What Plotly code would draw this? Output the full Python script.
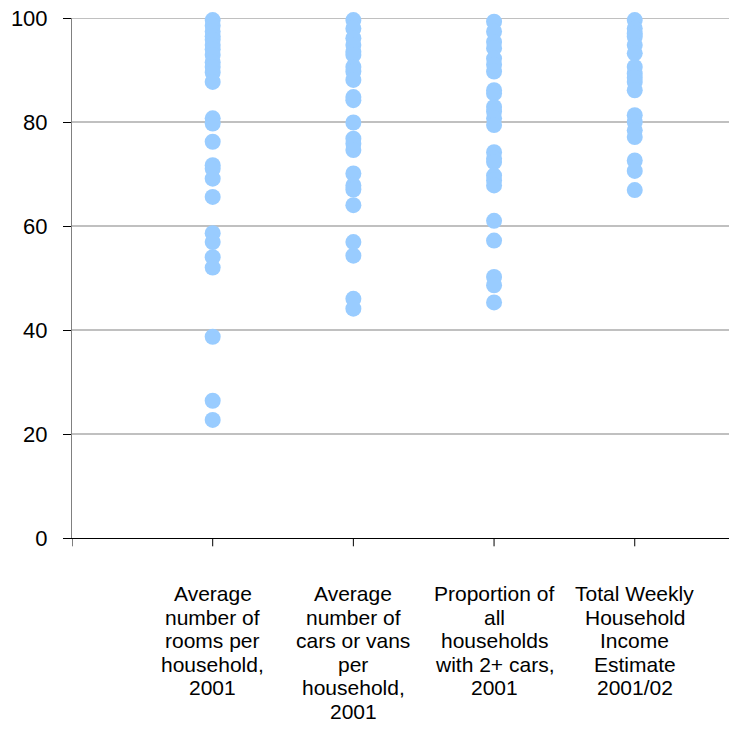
import plotly.graph_objects as go

# category labels (x positions 1..4, position 0 is the empty first slot)
categories = [
    "Average<br>number of<br>rooms per<br>household,<br>2001",
    "Average<br>number of<br>cars or vans<br>per<br>household,<br>2001",
    "Proportion of<br>all<br>households<br>with 2+ cars,<br>2001",
    "Total Weekly<br>Household<br>Income<br>Estimate<br>2001/02",
]

rooms = [99.6, 98.5, 97.4, 96.5, 95.8, 94.8, 94.0, 92.9, 91.5, 90.6, 89.5, 87.7,
         80.7, 79.7, 76.2, 71.7, 71.0, 69.1, 65.6, 58.6, 56.9, 54.0, 52.0, 38.7,
         26.4, 22.7]
cars = [99.6, 98.0, 96.1, 94.8, 93.5, 92.9, 90.6, 89.7, 88.1, 84.8, 84.2, 79.9,
        76.8, 75.8, 74.6, 70.1, 67.8, 67.0, 64.0, 56.9, 54.3, 46.0, 44.1]
two_cars = [99.3, 97.4, 95.4, 94.2, 92.2, 91.0, 89.7, 86.1, 85.5, 82.9, 82.0,
            80.7, 79.4, 74.2, 73.0, 72.3, 69.7, 68.8, 67.8, 61.0, 57.2, 50.2,
            48.6, 45.3]
income = [99.6, 98.0, 97.0, 96.4, 94.8, 93.2, 90.6, 89.3, 88.5, 87.7, 86.1,
          81.3, 80.0, 78.4, 77.1, 72.6, 70.6, 66.9]

series = [rooms, cars, two_cars, income]

fig = go.Figure()
for i, vals in enumerate(series):
    fig.add_trace(go.Scatter(
        x=[i + 1] * len(vals), y=vals, mode="markers",
        marker=dict(color="#99CCFF", size=16, line=dict(width=0)),
        showlegend=False, cliponaxis=False, hoverinfo="y",
    ))

fig.update_layout(
    width=729, height=738,
    margin=dict(l=72, r=0, t=18, b=200),
    plot_bgcolor="white", paper_bgcolor="white",
    font=dict(family="Liberation Sans, Arial", color="black"),
    xaxis=dict(
        range=[0, 4.67], tickvals=[1, 2, 3, 4], showticklabels=False,
        showgrid=False, zeroline=False,
        showline=True, linecolor="black", linewidth=1, ticks="",
    ),
    yaxis=dict(
        range=[0, 100], tickvals=[0, 20, 40, 60, 80, 100],
        showgrid=True, gridcolor="#C0C0C0", gridwidth=2, zeroline=False,
        showline=True, linecolor="#808080", linewidth=1,
        ticks="outside", ticklen=8, tickcolor="black",
        tickfont=dict(size=22), ticklabelstandoff=11,
    ),
)

# top gridline at 100 (plotly drops the one on the plot edge)
fig.add_shape(type="line", xref="paper", yref="y", x0=0, x1=1, y0=100, y1=100,
              line=dict(color="#C0C0C0", width=2), layer="below")

# category tick marks, including the empty first slot
for xv in [0, 1, 2, 3, 4]:
    fig.add_shape(type="line", xref="x", yref="paper", x0=xv, x1=xv,
                  y0=0, y1=-0.016, line=dict(color="black", width=1))

# category labels, one annotation per line to get Excel-like line spacing
for i, lab in enumerate(categories):
    for j, line in enumerate(lab.split("<br>")):
        fig.add_annotation(
            x=i + 1, xref="x", y=0, yref="paper", yanchor="top",
            text=line, showarrow=False, font=dict(size=21),
            yshift=-42 - j * 23.6,
        )

fig.write_html("out.html", post_script="document.body.style.margin='0';",
               config={"displayModeBar": False})
